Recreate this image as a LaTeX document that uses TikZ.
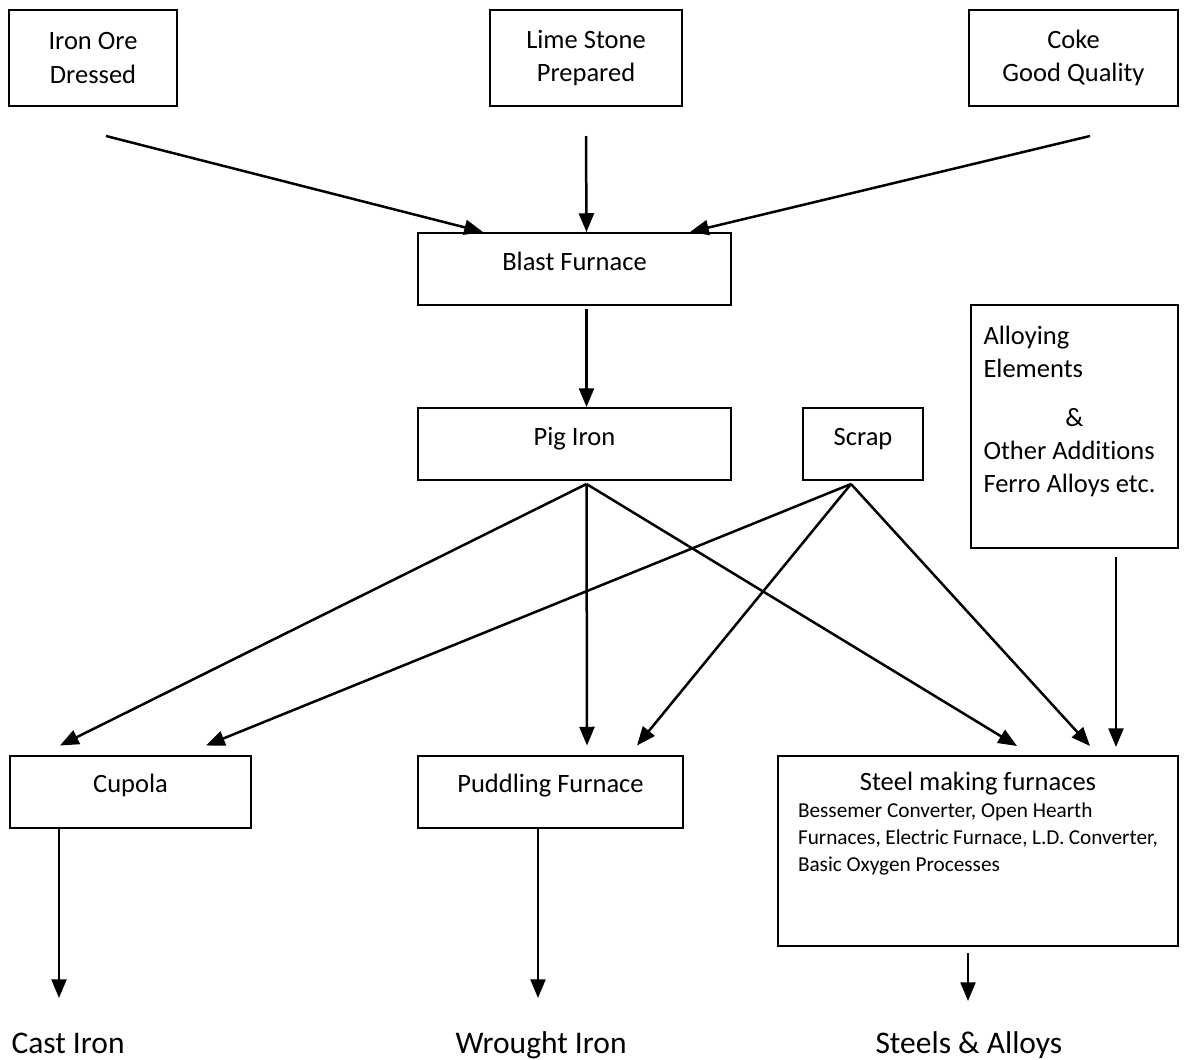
\documentclass[tikz,border=0pt]{standalone}
\usepackage{fontspec}
\setmainfont{Carlito}[Ligatures={NoCommon,NoContextual}]
\usetikzlibrary{arrows.meta,calc}

\begin{document}
\begin{tikzpicture}[x=0.4pt,y=-0.4pt,
  every node/.style={font=\fontsize{10.6}{13.3}\selectfont},
  box/.style={draw,line width=0.8pt,align=center,minimum height=38.4pt},
  onebox/.style={draw,line width=0.8pt,minimum width=#1,inner ysep=0pt,text height=14.8pt,text depth=14pt},
  flow/.style={line width=1pt,-{Triangle[length=7.5pt,width=6pt]}},
  product/.style={anchor=base west,inner sep=0pt,font=\fontsize{12.6}{15}\selectfont}]
\useasboundingbox (0,0) rectangle (1187,1060);
% raw materials
\node[box,minimum width=67.2pt] (ore) at (93,58) {Iron Ore\\Dressed};
\node[box,minimum width=76.8pt] (lime) at (586,58) {Lime Stone\\Prepared};
\node[box,minimum width=83.6pt] (coke) at (1073.5,58) {Coke\\Good Quality};
% furnaces and intermediates
\node[onebox=125.2pt] (blast) at (574.5,269) {Blast Furnace};
\node[onebox=125.2pt] (pig) at (574.5,444) {Pig Iron};
\node[onebox=48pt] (scrap) at (863,444) {Scrap};
\node[onebox=96.4pt] (cupola) at (130.5,791.5) {Cupola};
\node[onebox=106pt] (puddle) at (550.5,791.5) {Puddling Furnace};
\node[draw,line width=0.8pt,inner xsep=5pt,inner ysep=0pt] (alloy) at (1074.5,426.5)
  {\parbox[c][97.2pt][t]{72.8pt}{\vspace*{8.5pt}\raggedright Alloying\\Elements\\[6pt]\hfill\&\hfill\null\\Other Additions\\Ferro Alloys etc.}};
\node[draw,line width=0.8pt,inner xsep=8pt,inner ysep=0pt] (steel) at (978,851)
  {\parbox[c][76pt][t]{144pt}{\vspace*{6.5pt}\centering Steel making furnaces\par
   \raggedright\fontsize{8.5}{10.8}\selectfont Bessemer Converter, Open Hearth\\Furnaces, Electric Furnace, L.D. Converter,\\Basic Oxygen Processes}};
% products
\node[product] (cast) at (11,1053) {Cast Iron};
\node[product] (wrought) at (455,1053) {Wrought Iron};
\node[product] (steels) at (875,1053) {Steels \& Alloys};

% charge into the blast furnace
\coordinate (ore-out) at ($(ore.south)+(13,29)$);
\coordinate (lime-out) at ($(lime.south)+(0,29)$);
\coordinate (coke-out) at ($(coke.south)+(16.5,29)$);
\draw[flow] (ore-out) -- ($(blast.north)+(-91.5,0)$);
\draw[flow] (lime-out) -- ($(blast.north)+(12,0)$);
\draw[flow] (coke-out) -- ($(blast.north)+(115.5,0)$);
\draw[flow] ($(blast.south)+(12,3)$) -- ($(pig.north)+(12,0)$);

% pig iron and scrap to the furnaces
\coordinate (pig-out) at ($(pig.south)+(12,3)$);
\coordinate (scrap-out) at ($(scrap.south)+(-12,3)$);
\foreach \src/\dst/\dx in {pig/cupola/-70.5,pig/puddle/36.5,pig/steel/39,
    scrap/cupola/75.5,scrap/puddle/86.5,scrap/steel/112}
  \draw[flow] (\src-out) -- ($(\dst.north)+(\dx,-9)$);
\draw[flow] ($(alloy.south)+(41.5,8)$) -- ($(steel.north)+(138,-8)$);

% products
\draw[flow] ($(cupola.south)+(-71.5,0)$) -- ($(cast.base west)+(48,-55)$);
\draw[flow] ($(puddle.south)+(-12.5,0)$) -- ($(wrought.base west)+(83,-55)$);
\draw[flow] ($(steel.south)+(-10,6)$) -- ($(steels.base west)+(93,-52)$);
\end{tikzpicture}
\end{document}
